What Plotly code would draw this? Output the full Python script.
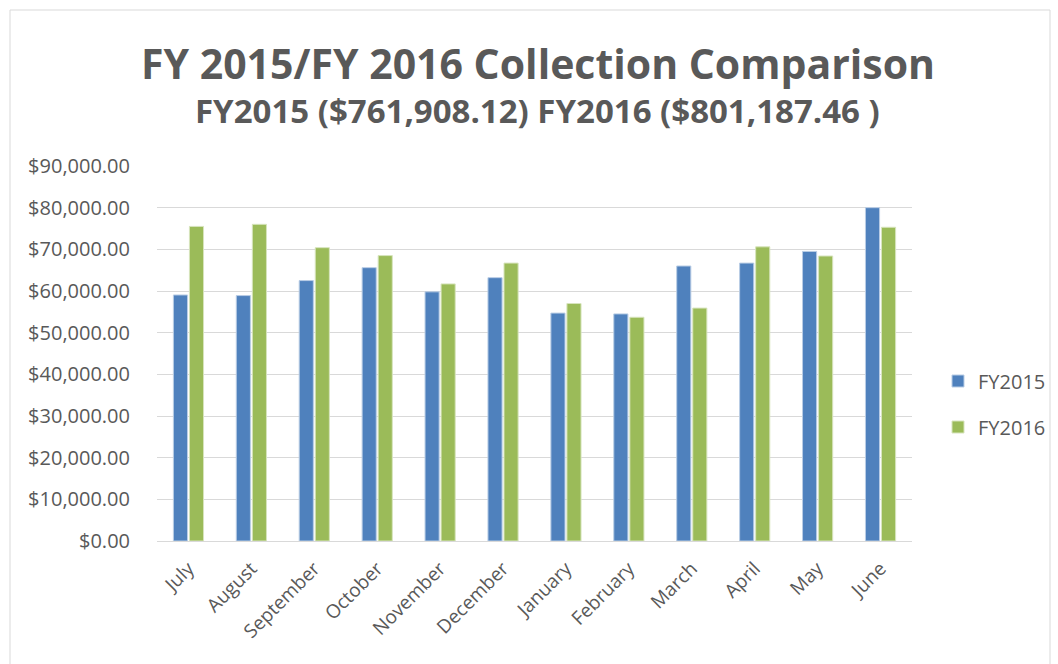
import plotly.graph_objects as go

months = ["July", "August", "September", "October", "November", "December",
          "January", "February", "March", "April", "May", "June"]
fy2015 = [59050, 58900, 62500, 65600, 59800, 63200, 54700, 54500, 66000, 66700, 69500, 80000]
fy2016 = [75500, 76000, 70400, 68500, 61700, 66700, 57000, 53700, 55900, 70600, 68400, 75300]
tick_vals = [0, 10000, 20000, 30000, 40000, 50000, 60000, 70000, 80000, 90000]
tick_text = ["$%s" % format(v, ",.2f") for v in tick_vals]

FONT = "Open Sans"
GRAY = "#595959"

fig = go.Figure()
fig.add_trace(go.Bar(x=months, y=fy2015, name="FY2015", legendgroup="a",
                     marker=dict(color="#4F81BD", line=dict(color="#B9CDE5", width=1))))
fig.add_trace(go.Bar(x=months, y=fy2016, name="FY2016", legendgroup="b",
                     marker=dict(color="#9BBB59", line=dict(color="#D7E4BD", width=1))))

L, R, T, B = 157, 912, 166, 541
W, H = 1058, 664

def px(x):
    return (x - L) / (R - L)

def py(y):
    return (B - y) / (B - T)

fig.update_layout(
    width=W, height=H,
    margin=dict(l=L, r=W - R, t=T, b=H - B, autoexpand=False),
    paper_bgcolor="white", plot_bgcolor="white",
    barmode="group", bargap=0.49, bargroupgap=0.12,
    font=dict(family=FONT, color=GRAY),
    showlegend=True,
    legend=dict(x=px(938), y=py(404), xanchor="left", yanchor="middle",
                font=dict(size=20, color=GRAY), tracegroupgap=17,
                itemwidth=30, bgcolor="rgba(0,0,0,0)"),
    xaxis=dict(tickangle=-45, tickfont=dict(size=19, color=GRAY),
               showline=True, linecolor="#D9D9D9", linewidth=1, ticks="",
               showgrid=False, ticklabelstandoff=8),
    yaxis=dict(range=[0, 90000], tickvals=tick_vals, ticktext=tick_text,
               tickfont=dict(size=20, color=GRAY), showgrid=True,
               gridcolor="#D9D9D9", gridwidth=1, zeroline=False, ticks="",
               showline=False, ticklabelstandoff=26),
    annotations=[
        dict(text="<b>FY 2015/FY 2016 Collection Comparison</b>", x=px(538), y=py(63),
             xref="paper", yref="paper", showarrow=False, xanchor="center", yanchor="middle",
             font=dict(size=41, color=GRAY, family=FONT)),
        dict(text="<b>FY2015 ($761,908.12) FY2016 ($801,187.46 )</b>", x=px(537), y=py(111),
             xref="paper", yref="paper", showarrow=False, xanchor="center", yanchor="middle",
             font=dict(size=33, color=GRAY, family=FONT)),
    ],
    shapes=[dict(type="rect", xref="paper", yref="paper",
                 x0=px(10), x1=px(1050), y0=py(700), y1=py(10),
                 line=dict(color="#D9D9D9", width=1), fillcolor="rgba(0,0,0,0)", layer="below")],
)

fig.write_html("out.html", config={"displayModeBar": False},
               post_script="document.body.style.margin='0';document.body.style.padding='0';")
